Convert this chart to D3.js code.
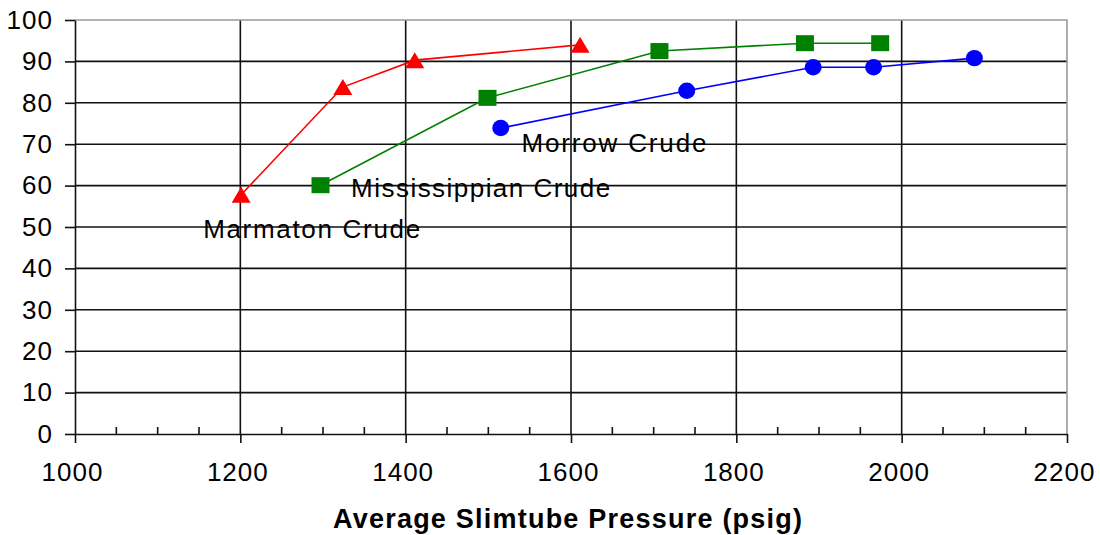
<!DOCTYPE html>
<html>
<head>
<meta charset="utf-8">
<script src="https://cdn.jsdelivr.net/npm/d3@7"></script>
<style>
  body { margin: 0; background: #fff; }
  svg { display: block; font-family: "Liberation Sans", Arial, sans-serif; }
</style>
</head>
<body>
<div id="wrapper"></div>
<script>
// data
const xTicks = [1000, 1200, 1400, 1600, 1800, 2000, 2200]
const xMinorTicks = [1050, 1100, 1150, 1250, 1300, 1350, 1450, 1500, 1550, 1650, 1700, 1750, 1850, 1900, 1950, 2050, 2100, 2150]
const yTicks = [0, 10, 20, 30, 40, 50, 60, 70, 80, 90, 100]

const marmatonPressure = [1201, 1324, 1411, 1611]
const marmatonRecovery = [57.8, 83.8, 90.3, 94.0]
const mississippianPressure = [1297, 1499, 1707, 1883, 1974]
const mississippianRecovery = [60.1, 81.2, 92.5, 94.4, 94.4]
const morrowPressure = [1515, 1740, 1893, 1966, 2088]
const morrowRecovery = [73.9, 82.9, 88.6, 88.6, 90.8]

const seriesNames = ["Marmaton Crude", "Mississippian Crude", "Morrow Crude"]
// label anchor (start of text, baseline) in data units
const labelPressure = [1155, 1334, 1540]
const labelRecovery = [47.3, 57.2, 68.1]

const xTitle = "Average Slimtube Pressure (psig)"

function drawChart() {
    const dimensions = {
        width: 1100,
        height: 535,
        margin: { top: 20, right: 33, bottom: 101, left: 75 },
    }
    dimensions.boundedWidth = dimensions.width - dimensions.margin.left - dimensions.margin.right
    dimensions.boundedHeight = dimensions.height - dimensions.margin.top - dimensions.margin.bottom

    const svg = d3.select("#wrapper")
        .append("svg")
        .attr("width", dimensions.width)
        .attr("height", dimensions.height)

    const bounds = svg.append("g")
        .attr("transform", `translate(${dimensions.margin.left},${dimensions.margin.top})`)

    const xScale = d3.scaleLinear()
        .domain([1000, 2200])
        .range([0, dimensions.boundedWidth])
    const yScale = d3.scaleLinear()
        .domain([0, 100])
        .range([dimensions.boundedHeight, 0])

    const gridColor = "#111"
    const borderColor = "#9a9a9a"

    // horizontal grid
    bounds.append("g").selectAll("line")
        .data(yTicks.filter(d => d > 0 && d < 100))
        .join("line")
        .attr("x1", 0)
        .attr("x2", dimensions.boundedWidth)
        .attr("y1", d => yScale(d))
        .attr("y2", d => yScale(d))
        .attr("stroke", gridColor)
        .attr("stroke-width", 1.6)

    // vertical grid
    bounds.append("g").selectAll("line")
        .data(xTicks.filter(d => d > 1000 && d < 2200))
        .join("line")
        .attr("x1", d => xScale(d))
        .attr("x2", d => xScale(d))
        .attr("y1", 0)
        .attr("y2", dimensions.boundedHeight)
        .attr("stroke", gridColor)
        .attr("stroke-width", 1.6)

    // top and right border
    bounds.append("path")
        .attr("d", `M0,0H${dimensions.boundedWidth}V${dimensions.boundedHeight}`)
        .attr("fill", "none")
        .attr("stroke", borderColor)
        .attr("stroke-width", 1.6)

    // minor x ticks (pointing up)
    bounds.append("g").selectAll("line")
        .data(xMinorTicks)
        .join("line")
        .attr("x1", d => xScale(d))
        .attr("x2", d => xScale(d))
        .attr("y1", dimensions.boundedHeight - 7)
        .attr("y2", dimensions.boundedHeight)
        .attr("stroke", gridColor)
        .attr("stroke-width", 1.6)

    // axes
    const xAxisGenerator = d3.axisBottom(xScale)
        .tickValues(xTicks)
        .tickFormat(d3.format("d"))
        .tickSize(9)
        .tickPadding(20)
        .tickSizeOuter(0)
    const xAxis = bounds.append("g")
        .attr("transform", `translate(0,${dimensions.boundedHeight})`)
        .call(xAxisGenerator)
    xAxis.selectAll("text")
        .attr("dx", -3)
        .style("letter-spacing", "1px")

    const yAxisGenerator = d3.axisLeft(yScale)
        .tickValues(yTicks)
        .tickSize(10)
        .tickPadding(12)
        .tickSizeOuter(0)
    const yAxis = bounds.append("g")
        .call(yAxisGenerator)
    yAxis.selectAll("text")
        .style("letter-spacing", "1px")

    svg.selectAll(".domain, .tick line")
        .attr("stroke", gridColor)
        .attr("stroke-width", 1.6)
    svg.selectAll(".tick text")
        .attr("fill", "#000")
        .style("font-size", "26px")
        .style("font-family", "'Liberation Sans', Arial, sans-serif")

    xAxis.append("text")
        .attr("x", (333 + 802) / 2 - dimensions.margin.left)
        .attr("y", 94)
        .attr("text-anchor", "middle")
        .attr("fill", "#000")
        .style("font-size", "27px")
        .style("font-weight", "bold")
        .attr("textLength", 469)
        .attr("lengthAdjust", "spacing")
        .text(xTitle)

    // series
    const series = [
        { name: seriesNames[0], xs: marmatonPressure, ys: marmatonRecovery, color: "#ff0000", shape: "triangle" },
        { name: seriesNames[1], xs: mississippianPressure, ys: mississippianRecovery, color: "#008000", shape: "square" },
        { name: seriesNames[2], xs: morrowPressure, ys: morrowRecovery, color: "#0000ff", shape: "circle" },
    ]

    const lineGenerator = d3.line()
        .x(d => xScale(d[0]))
        .y(d => yScale(d[1]))

    series.forEach(s => {
        const points = d3.zip(s.xs, s.ys)
        const g = bounds.append("g")
        g.append("path")
            .datum(points)
            .attr("d", lineGenerator)
            .attr("fill", "none")
            .attr("stroke", s.color)
            .attr("stroke-width", 1.6)

        if (s.shape == "triangle") {
            g.selectAll("path.mark")
                .data(points)
                .join("path")
                .attr("class", "mark")
                .attr("d", d => {
                    const cx = xScale(d[0]), cy = yScale(d[1])
                    return `M${cx},${cy - 8}L${cx + 9.5},${cy + 8}L${cx - 9.5},${cy + 8}Z`
                })
                .attr("fill", s.color)
        } else if (s.shape == "square") {
            g.selectAll("rect")
                .data(points)
                .join("rect")
                .attr("x", d => xScale(d[0]) - 9)
                .attr("y", d => yScale(d[1]) - 8)
                .attr("width", 18)
                .attr("height", 16)
                .attr("fill", s.color)
        } else {
            g.selectAll("ellipse")
                .data(points)
                .join("ellipse")
                .attr("cx", d => xScale(d[0]))
                .attr("cy", d => yScale(d[1]))
                .attr("rx", 8.5)
                .attr("ry", 8.2)
                .attr("fill", s.color)
        }
    })

    // series labels
    const labelWidths = [217, 259, 185]
    bounds.append("g").selectAll("text")
        .data(seriesNames)
        .join("text")
        .attr("x", (d, i) => xScale(labelPressure[i]))
        .attr("y", (d, i) => yScale(labelRecovery[i]))
        .attr("fill", "#000")
        .style("font-size", "26px")
        .attr("textLength", (d, i) => labelWidths[i])
        .attr("lengthAdjust", "spacing")
        .text(d => d)
}

drawChart()
</script>
</body>
</html>
